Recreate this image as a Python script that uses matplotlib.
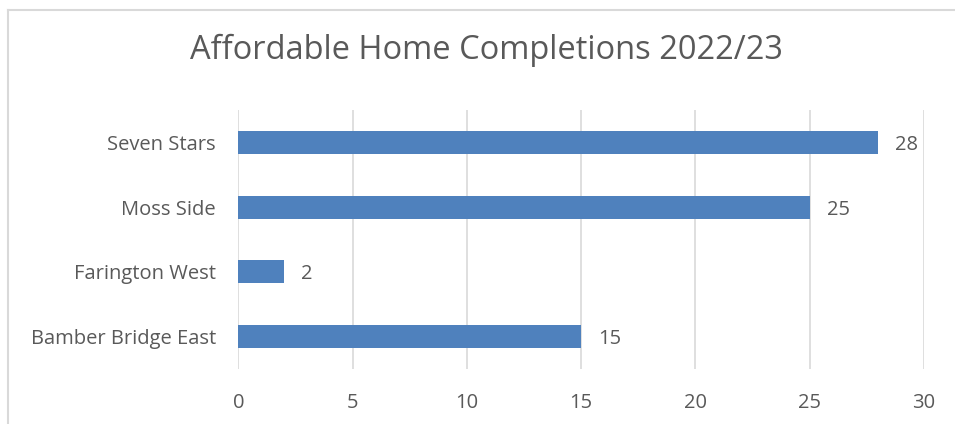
import matplotlib.pyplot as plt
from matplotlib.lines import Line2D

wards = ["Bamber Bridge East", "Farington West", "Moss Side", "Seven Stars"]
completions = [15, 2, 25, 28]
x_ticks = [0, 5, 10, 15, 20, 25, 30]

plt.rcParams['font.family'] = ['Open Sans', 'DejaVu Sans']
text_col = '#595959'
grid_col = '#d9d9d9'

fig = plt.figure(figsize=(9.55, 4.24), dpi=100)
ax = fig.add_axes([0.2495, 0.1297, 0.7180, 0.6108])

bars = ax.barh(wards, completions, height=0.355, color='#4f81bd', zorder=3)
for b, v in zip(bars, completions):
    ax.text(b.get_width() + 0.75, b.get_y() + b.get_height() / 2 - 0.04, str(v),
            va='center', ha='left', fontsize=14.5, color=text_col)

ax.set_xlim(0, 30)
ax.set_ylim(-0.5, 3.5)
ax.set_xticks(x_ticks)
ax.grid(axis='x', color=grid_col, linewidth=1.2, zorder=0)
for s in ax.spines.values():
    s.set_visible(False)
ax.tick_params(length=0, labelsize=14.5, labelcolor=text_col)
ax.tick_params(axis='y', pad=16)
ax.tick_params(axis='x', pad=17)

fig.text(0.5098, 0.882, "Affordable Home Completions 2022/23", ha='center', va='center',
         fontsize=23.5, color=text_col)

# chart frame (left and top edges visible)
fig.add_artist(Line2D([8/955, 8/955], [0, 1 - 10/424], color=grid_col, linewidth=1.5))
fig.add_artist(Line2D([8/955, 1], [1 - 10/424, 1 - 10/424], color=grid_col, linewidth=1.5))

fig.savefig('out.png', dpi=100)
